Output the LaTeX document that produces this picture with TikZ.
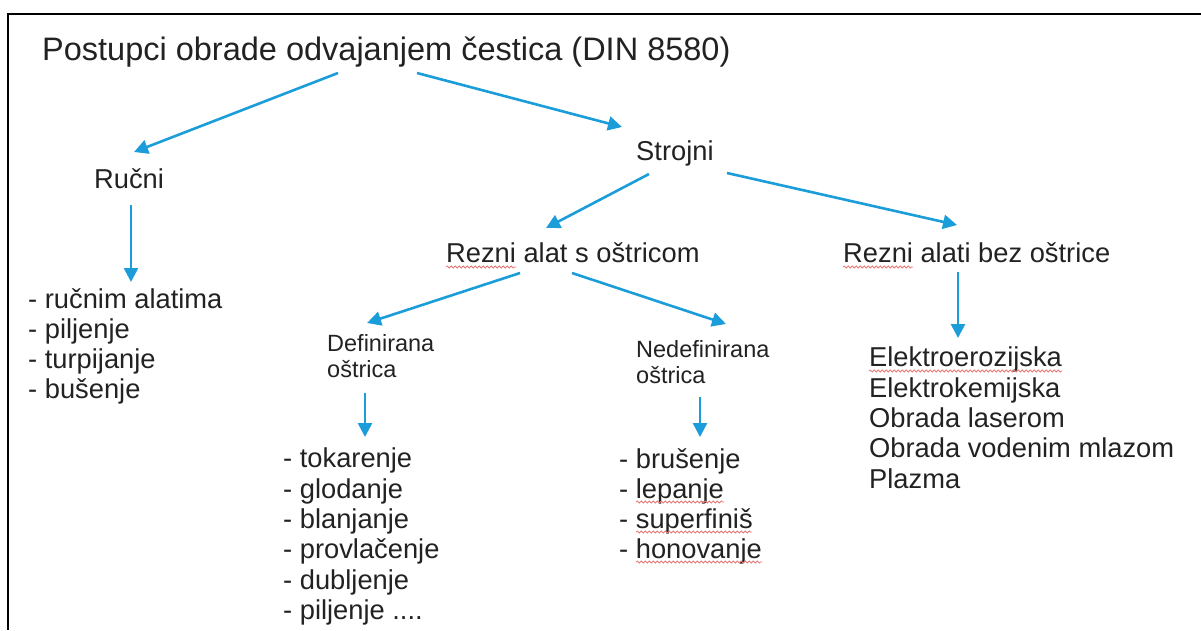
\documentclass[tikz,border=0pt]{standalone}
\usepackage{fontspec}
\setmainfont{Liberation Sans}
\usetikzlibrary{arrows.meta,decorations.pathmorphing}
\definecolor{arrowblue}{RGB}{27,157,217}
\definecolor{textgray}{RGB}{34,34,34}
\definecolor{spellred}{RGB}{232,120,120}
\tikzset{
  big/.style={font=\fontsize{32.5}{36}\selectfont},
  main/.style={font=\fontsize{27.3}{30.3}\selectfont},
  small/.style={font=\fontsize{23.5}{26.3}\selectfont},
  arr/.style={arrowblue, line width=2.6pt, -{Triangle[length=14pt,width=14pt]}},
  wavy/.style={spellred, line width=0.8pt, decorate, decoration={snake,amplitude=1pt,segment length=4pt}}
}
\begin{document}
\begin{tikzpicture}[x=1pt,y=-1pt]
\tikzstyle{every node}+=[inner sep=0pt, text=textgray]
\useasboundingbox (0,0) rectangle (1201,630);
\draw [black, line width=2.8pt] (8,630) -- (8,14) -- (1201,14);
\node [big, anchor=base west] (title) at (42,60) {Postupci obrade odvajanjem čestica (DIN 8580)};
\node [main, anchor=base west] (rucni) at (94,188) {Ručni};
\node [main, anchor=base west] (strojni) at (636,160) {Strojni};
\node [main, anchor=base west] (ostrica) at (446,262) {Rezni alat s oštricom};
\node [main, anchor=base west] (bezostrice) at (843,262) {Rezni alati bez oštrice};
\node [small, align=left, anchor=north west] (def) at (327,334) {Definirana\\oštrica};
\node [small, align=left, anchor=north west] (nedef) at (636,340) {Nedefinirana\\oštrica};
\node [main, align=left, anchor=north west] (rucnilist) at (28,288) {- ručnim alatima\\- piljenje\\- turpijanje\\- bušenje};
\node [main, align=left, anchor=north west] (deflist) at (283,448) {- tokarenje\\- glodanje\\- blanjanje\\- provlačenje\\- dubljenje\\- piljenje ....};
\node [main, align=left, anchor=north west] (nedeflist) at (619,448) {- brušenje\\- lepanje\\- superfiniš\\- honovanje};
\node [main, align=left, anchor=north west] (bezlist) at (869,347) {Elektroerozijska\\Elektrokemijska\\Obrada laserom\\Obrada vodenim mlazom\\Plazma};
\draw [arr] ([xshift=296pt,yshift=-13pt]title.base west) -- ([xshift=40pt,yshift=36pt]rucni.base west);
\draw [arr] ([xshift=375pt,yshift=-13pt]title.base west) -- ([xshift=-14pt,yshift=33pt]strojni.base west);
\draw [arr] ([xshift=13pt,yshift=-14pt]strojni.base west) -- ([xshift=100pt,yshift=34pt]ostrica.base west);
\draw [arr] ([xshift=91pt,yshift=-13pt]strojni.base west) -- ([xshift=114pt,yshift=37pt]bezostrice.base west);
\draw [arr] ([xshift=37pt,yshift=-17pt]rucni.base west) -- ([xshift=103pt,yshift=6pt]rucnilist.north west);
\draw [arr] ([xshift=74pt,yshift=-11pt]ostrica.base west) -- ([xshift=40pt,yshift=11pt]def.north west);
\draw [arr] ([xshift=126pt,yshift=-11pt]ostrica.base west) -- ([xshift=90pt,yshift=16pt]nedef.north west);
\draw [arr] ([xshift=38pt,yshift=-15pt]def.south west) -- ([xshift=82pt,yshift=11pt]deflist.north west);
\draw [arr] ([xshift=64pt,yshift=-13pt]nedef.south west) -- ([xshift=81pt,yshift=11pt]nedeflist.north west);
\draw [arr] ([xshift=115pt,yshift=-10pt]bezostrice.base west) -- ([xshift=89pt,yshift=9pt]bezlist.north west);
\draw [wavy] (446,267) -- (516,267);
\draw [wavy] (843,267) -- (913,267);
\draw [wavy] (869,371) -- (1062,371);
\draw [wavy] (636,502) -- (724,502);
\draw [wavy] (636,532) -- (752,532);
\draw [wavy] (636,562) -- (762,562);
\end{tikzpicture}
\end{document}
